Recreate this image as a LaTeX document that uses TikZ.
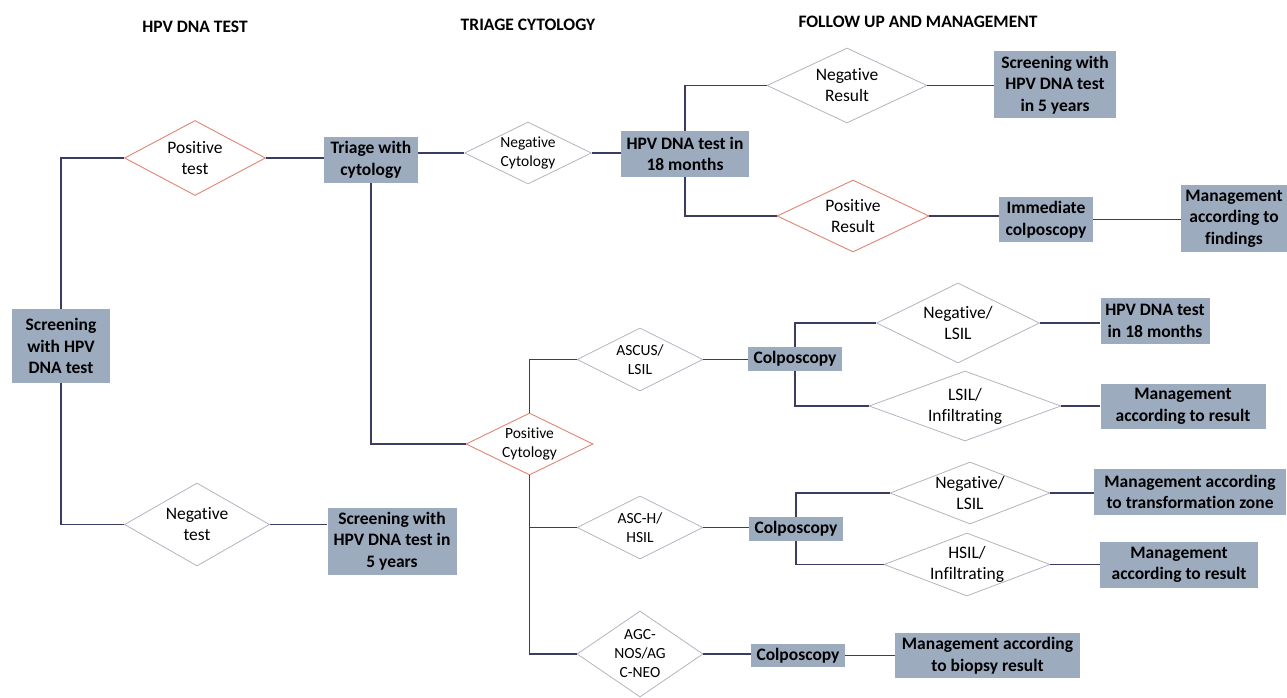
\documentclass[tikz,border=0pt]{standalone}
\usepackage{fontspec}
\setmainfont{Carlito}[Ligatures=NoCommon]
\usetikzlibrary{shapes.geometric}
\definecolor{boxfill}{RGB}{157,171,191}
\definecolor{linec}{RGB}{58,60,98}
\definecolor{diagray}{RGB}{178,180,192}
\definecolor{diared}{RGB}{226,132,116}
\tikzset{
  hdr/.style={font=\fontsize{17.5}{21.5}\selectfont\bfseries, inner sep=0pt},
  box/.style={rectangle, fill=boxfill, inner sep=0pt, align=center,
    font=\fontsize{17.5}{21.5}\selectfont\bfseries, minimum width=#1},
  dia/.style={diamond, draw=diagray, line width=0.8pt, inner sep=0pt, fill=white},
  redd/.style={diamond, draw=diared, line width=0.9pt, inner sep=0pt, fill=white},
  dtxt/.style={align=center, inner sep=0pt, font=\fontsize{17.5}{21}\selectfont},
  stxt/.style={align=center, inner sep=0pt, font=\fontsize{15.5}{19}\selectfont},
  conn/.style={draw=linec, line width=1.9pt},
}
\begin{document}
\begin{tikzpicture}[x=1pt,y=-1pt]
\useasboundingbox (0,0) rectangle (1287,698);
% headers
\node[hdr] (h1) at (195,27) {HPV DNA TEST};
\node[hdr] (h2) at (528,25) {TRIAGE CYTOLOGY};
\node[hdr] (h3) at (918,22) {FOLLOW UP AND MANAGEMENT};
% boxes
\node[box=98, minimum height=74] (screen) at (61,346) {Screening\\with HPV\\DNA test};
\node[box=129, minimum height=67] (screenA) at (392,541) {Screening with\\HPV DNA test in\\5 years};
\node[box=94, minimum height=46] (triage) at (371,160) {Triage with\\cytology};
\node[box=128, minimum height=46] (hpv18) at (685,154) {HPV DNA test in\\18 months};
\node[box=122, minimum height=67] (screenB) at (1055,85) {Screening with\\HPV DNA test\\in 5 years};
\node[box=94, minimum height=45] (immcol) at (1046,219.5) {Immediate\\colposcopy};
\node[box=106, minimum height=67] (mfind) at (1234,218.5) {Management\\according to\\findings};
\node[box=94, minimum height=24] (colpoA) at (795,359) {Colposcopy};
\node[box=109, minimum height=46] (hpv18b) at (1155,321) {HPV DNA test\\in 18 months};
\node[box=165, minimum height=45] (mres1) at (1183,406.5) {Management\\according to result};
\node[box=94, minimum height=24] (colpoB) at (796,529) {Colposcopy};
\node[box=192, minimum height=46] (mzone) at (1190,492) {Management according\\to transformation zone};
\node[box=158, minimum height=46] (mres2) at (1179,565) {Management\\according to result};
\node[box=94, minimum height=23] (colpoC) at (798,655.5) {Colposcopy};
\node[box=185, minimum height=45] (mbio) at (987.5,655.5) {Management according\\to biopsy result};
% diamonds
\node[redd, minimum width=141, minimum height=75] (postest) at (195,158) {};
\node[dtxt] (postestT) at (postest) {Positive\\test};
\node[dia, minimum width=145, minimum height=83] (negtest) at (197,524.5) {};
\node[dtxt] (negtestT) at (negtest) {Negative\\test};
\node[dia, minimum width=127, minimum height=62] (negcyt) at (528,153) {};
\node[stxt] (negcytT) at (negcyt) {Negative\\Cytology};
\node[dia, minimum width=160, minimum height=75] (negres) at (847,85.5) {};
\node[dtxt] (negresT) at (negres) {Negative\\Result};
\node[redd, minimum width=152, minimum height=72] (posres) at (853,216) {};
\node[dtxt] (posresT) at (posres) {Positive\\Result};
\node[redd, minimum width=127, minimum height=62] (poscyt) at (529.5,444) {};
\node[stxt] (poscytT) at (poscyt) {Positive\\Cytology};
\node[dia, minimum width=126, minimum height=63] (ascus) at (640,359.5) {};
\node[stxt] (ascusT) at (ascus) {ASCUS/\\LSIL};
\node[dia, minimum width=163, minimum height=80] (nlsilA) at (958,323) {};
\node[dtxt] (nlsilAT) at (nlsilA) {Negative/\\LSIL};
\node[dia, minimum width=192, minimum height=70] (linf) at (965,406) {};
\node[dtxt] (linfT) at (linf) {LSIL/\\Infiltrating};
\node[dia, minimum width=126, minimum height=63] (asch) at (640,527.5) {};
\node[stxt] (aschT) at (asch) {ASC-H/\\HSIL};
\node[dia, minimum width=160, minimum height=62] (nlsilB) at (970,493) {};
\node[dtxt] (nlsilBT) at (nlsilB) {Negative/\\LSIL};
\node[dia, minimum width=166, minimum height=63] (hinf) at (967,564.5) {};
\node[dtxt] (hinfT) at (hinf) {HSIL/\\Infiltrating};
\node[dia, minimum width=126, minimum height=86] (agc) at (640,654) {};
\node[stxt] (agcT) at (agc) {AGC-\\NOS/AG\\C-NEO};
% connectors
\path[conn] (screen.north) |- (postest.west);
\path[conn] (screen.south) |- (negtest.west);
\path[conn] (postest.east) -- (postest.east -| triage.west);
\path[conn] (negtest.east) -- (negtest.east -| screenA.west);
\path[conn] (triage.east |- negcyt.west) -- (negcyt.west);
\path[conn] (negcyt.east) -- (negcyt.east -| hpv18.west);
\path[conn] (hpv18.north) |- (negres.west);
\path[conn] (hpv18.south) |- (posres.west);
\path[conn] (negres.east) -- (negres.east -| screenB.west);
\path[conn] (posres.east) -- (posres.east -| immcol.west);
\path[conn] (immcol.east) -- (immcol.east -| mfind.west);
\path[conn] (triage.south) |- (poscyt.west);
\path[conn] (poscyt.north) |- (ascus.west);
\path[conn] (poscyt.south) |- (agc.west);
\path[conn] (poscyt.south |- asch.west) -- (asch.west);
\path[conn] (ascus.east) -- (ascus.east -| colpoA.west);
\path[conn] (colpoA.north) |- (nlsilA.west);
\path[conn] (colpoA.south) |- (linf.west);
\path[conn] (nlsilA.east) -- (nlsilA.east -| hpv18b.west);
\path[conn] (linf.east) -- (linf.east -| mres1.west);
\path[conn] (asch.east) -- (asch.east -| colpoB.west);
\path[conn] (colpoB.north) |- (nlsilB.west);
\path[conn] (colpoB.south) |- (hinf.west);
\path[conn] (nlsilB.east) -- (nlsilB.east -| mzone.west);
\path[conn] (hinf.east) -- (hinf.east -| mres2.west);
\path[conn] (agc.east) -- (agc.east -| colpoC.west);
\path[conn] (colpoC.east) -- (colpoC.east -| mbio.west);
\end{tikzpicture}
\end{document}
